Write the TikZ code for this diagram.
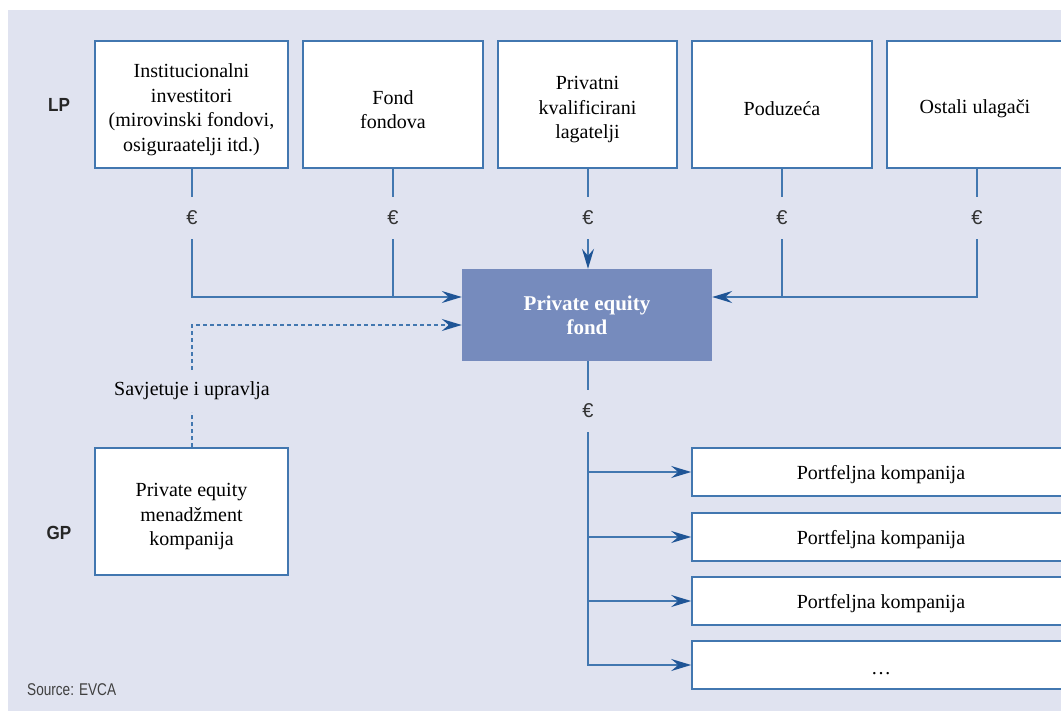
\documentclass[tikz,border=0pt]{standalone}
\usepackage{fontspec}
\setmainfont{Liberation Serif}
\newfontfamily\labelfont[FakeStretch=0.9]{Liberation Sans}
\newfontfamily\srcfont[FakeStretch=0.8]{Liberation Sans}
\newfontfamily\eurofont{Liberation Sans}
\usetikzlibrary{arrows.meta}
\definecolor{bg}{HTML}{E0E3F0}
\definecolor{ln}{HTML}{4277B0}
\definecolor{arr}{HTML}{1F5596}
\definecolor{pef}{HTML}{768BBD}
\newcommand\mytopstrut{\rule{0pt}{24pt}}
\tikzset{
  box/.style={draw=ln, line width=1.6pt, fill=white, align=center, inner sep=0pt,
    font=\fontsize{20}{24.5}\selectfont},
  topbox/.style={box, minimum height=127pt},
  pbox/.style={box, minimum width=378pt, minimum height=48pt},
  euro/.style={inner sep=0pt, minimum height=42pt, font=\eurofont\fontsize{20}{20}\selectfont, text=black!80},
  conn/.style={draw=ln, line width=1.6pt},
  arrowline/.style={conn, -{Stealth[length=20pt,width=12pt,inset=7pt,fill=arr,color=arr]}},
  dotline/.style={conn, dash pattern=on 4pt off 3pt},
  side/.style={font=\labelfont\bfseries\fontsize{19}{19}\selectfont, text=black!85},
}
\begin{document}
\begin{tikzpicture}[x=1pt,y=-1pt]
\clip (0,0) rectangle (1061,711);
\fill[white] (0,0) rectangle (1061,711);
\fill[bg] (8,10) rectangle (1061,711);

% top boxes
\node[topbox, minimum width=193pt] (b1) at (191.5,104.5) {\mytopstrut Institucionalni\\investitori\\(mirovinski fondovi,\\osiguraatelji itd.)};
\node[topbox, minimum width=180pt] (b2) at (393,104.5) {\mytopstrut Fond\\fondova};
\node[topbox, minimum width=179pt] (b3) at (587.5,104.5) {\mytopstrut Privatni\\kvalificirani\\lagatelji};
\node[topbox, minimum width=180pt] (b4) at (782,104.5) {\rule{0pt}{22pt}Poduzeća};
\node[topbox, minimum width=176pt] (b5) at (975,104.5) {\rule{0pt}{22pt}Ostali ulagači};

% central fund
\node[fill=pef, minimum width=250pt, minimum height=92pt, align=center, inner sep=0pt,
  text=white, font=\bfseries\fontsize{21}{24}\selectfont] (pe) at (587,315) {Private equity\\fond};

% GP box
\node[topbox, minimum width=193pt] (gp) at (191.5,511.5) {\mytopstrut Private equity\\menadžment\\kompanija};

% portfolio boxes
\node[pbox] (p1) at (881,472) {\rule{0pt}{19pt}Portfeljna kompanija};
\node[pbox] (p2) at (881,537) {\rule{0pt}{19pt}Portfeljna kompanija};
\node[pbox] (p3) at (881,601) {\rule{0pt}{19pt}Portfeljna kompanija};
\node[pbox] (p4) at (881,665) {\rule{0pt}{19pt}\dots};

% side labels
\node[side] (lp) at (59,105) {LP};
\node[side] (gpl) at (59,533) {GP};
\node[anchor=west, inner sep=0pt, font=\srcfont\fontsize{17}{17}\selectfont, text=black!75] (src) at (27,690) {Source: EVCA};

% euro signs
\node[euro] (e1) at (192,218) {€};
\node[euro] (e2) at (393,218) {€};
\node[euro] (e3) at (588,218) {€};
\node[euro] (e4) at (782,218) {€};
\node[euro] (e5) at (977,218) {€};
\node[euro] (e6) at (588,411) {€};

% advice label
\node[inner sep=0pt, minimum height=42pt, font=\fontsize{20}{24}\selectfont] (sav) at (192,391) {Savjetuje i upravlja};

\coordinate (jin) at (0,297);
\coordinate (jdot) at (0,325);

% connectors from LP boxes
\draw[conn] (b1.south -| e1) -- (e1.north);
\draw[conn] (b2.south -| e2) -- (e2.north);
\draw[conn] (b3.south -| e3) -- (e3.north);
\draw[conn] (b4.south -| e4) -- (e4.north);
\draw[conn] (b5.south -| e5) -- (e5.north);

\draw[arrowline] (e1.south) |- (pe.west |- jin);
\draw[conn] (e2.south) -- (e2.south |- jin);
\draw[arrowline] (e3.south) -- (pe.north -| e3);
\draw[conn] (e4.south) -- (e4.south |- jin);
\draw[arrowline] (e5.south) |- (pe.east |- jin);

% advice dotted line
\draw[dotline] (gp.north -| sav) -- (sav.south);
\draw[dotline, -{Stealth[length=20pt,width=12pt,inset=7pt,fill=arr,color=arr]}] (sav.north) |- (pe.west |- jdot);

% fund to portfolio
\draw[conn] (pe.south -| e6) -- (e6.north);
\draw[arrowline] (e6.south) |- (p1.west);
\draw[arrowline] (e6.south) |- (p2.west);
\draw[arrowline] (e6.south) |- (p3.west);
\draw[arrowline] (e6.south) |- (p4.west);
\end{tikzpicture}
\end{document}
